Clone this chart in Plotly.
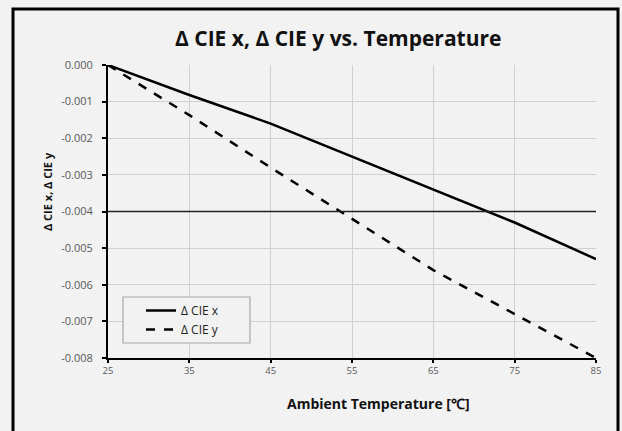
import plotly.graph_objects as go

temps = [25, 35, 45, 55, 65, 75, 85]
cie_x = [0.0, -0.00082, -0.0016, -0.0025, -0.0034, -0.0043, -0.0053]
cie_y = [0.0, -0.00137, -0.0028, -0.0042, -0.0056, -0.0068, -0.0080]
ref_level = -0.004
y_ticks = [0.0, -0.001, -0.002, -0.003, -0.004, -0.005, -0.006, -0.007, -0.008]
y_ticktext = ["0.000", "-0.001", "-0.002", "-0.003", "-0.004", "-0.005", "-0.006", "-0.007", "-0.008"]
x_ticks = [25, 35, 45, 55, 65, 75, 85]

FONT = "Open Sans"
W, H = 622, 431
L, R, T, B = 108, 26, 65, 73
pw, ph = W - L - R, H - T - B

def px(x):
    return (x - L) / pw

def py(y):
    return (H - B - y) / ph

fig = go.Figure()
fig.add_trace(go.Scatter(x=temps, y=cie_x, mode="lines", name="Δ CIE x",
                         line=dict(color="black", width=2.5)))
fig.add_trace(go.Scatter(x=temps, y=cie_y, mode="lines", name="Δ CIE y",
                         line=dict(color="black", width=2.5, dash="dash")))

fig.add_shape(type="line", xref="x", yref="y", x0=temps[0], x1=temps[-1],
              y0=ref_level, y1=ref_level, line=dict(color="#222222", width=1.5))

# outer chart border
fig.add_shape(type="rect", xref="paper", yref="paper", x0=px(13), x1=px(618),
              y0=py(440), y1=py(9), line=dict(color="black", width=3), layer="below")
# legend frame
fig.add_shape(type="rect", xref="paper", yref="paper", x0=px(123), x1=px(250),
              y0=py(343), y1=py(297), line=dict(color="#a6a6a6", width=1.2),
              fillcolor="#f2f2f2", layer="above")

fig.update_layout(
    width=W, height=H,
    margin=dict(l=L, r=R, t=T, b=B),
    paper_bgcolor="#f2f2f2", plot_bgcolor="#f2f2f2",
    font=dict(family=FONT, color="#595959"),
    showlegend=True,
    legend=dict(x=px(141), y=py(320), xanchor="left", yanchor="middle",
                bgcolor="rgba(0,0,0,0)", borderwidth=0,
                font=dict(family=FONT, size=12, color="#222222"),
                itemwidth=30),
    xaxis=dict(range=[25, 85], tickvals=x_ticks, ticks="outside", ticklen=3,
               tickcolor="black", tickwidth=2, showline=True, linecolor="black",
               linewidth=2, showgrid=True, gridcolor="#d0d0d0", gridwidth=1,
               zeroline=False, tickfont=dict(size=9.5, color="#595959")),
    yaxis=dict(range=[-0.008, 0.0], tickvals=y_ticks, ticktext=y_ticktext,
               ticks="outside", ticklen=4, tickcolor="black", tickwidth=2,
               ticklabelstandoff=7,
               showline=True, linecolor="black", linewidth=2, showgrid=True,
               gridcolor="#d0d0d0", gridwidth=1, zeroline=False,
               tickfont=dict(size=11, color="#595959")),
)

fig.add_annotation(text="<b>Δ CIE x, Δ CIE y vs. Temperature</b>", xref="paper", yref="paper",
                   x=px(338), y=py(38), showarrow=False, xanchor="center", yanchor="middle",
                   font=dict(family=FONT, size=21, color="#111111"))
fig.add_annotation(text="<b>Ambient Temperature [℃]</b>", xref="paper", yref="paper",
                   x=px(378), y=py(403), showarrow=False, xanchor="center", yanchor="middle",
                   font=dict(family=FONT, size=14, color="#111111"))
fig.add_annotation(text="<b>Δ CIE x, Δ CIE y</b>", xref="paper", yref="paper",
                   x=px(47), y=py(192), showarrow=False, xanchor="center", yanchor="middle",
                   textangle=-90, font=dict(family=FONT, size=11, color="#111111"))

fig.write_html("out.html", config={"displayModeBar": False},
               post_script="document.body.style.margin='0';")
